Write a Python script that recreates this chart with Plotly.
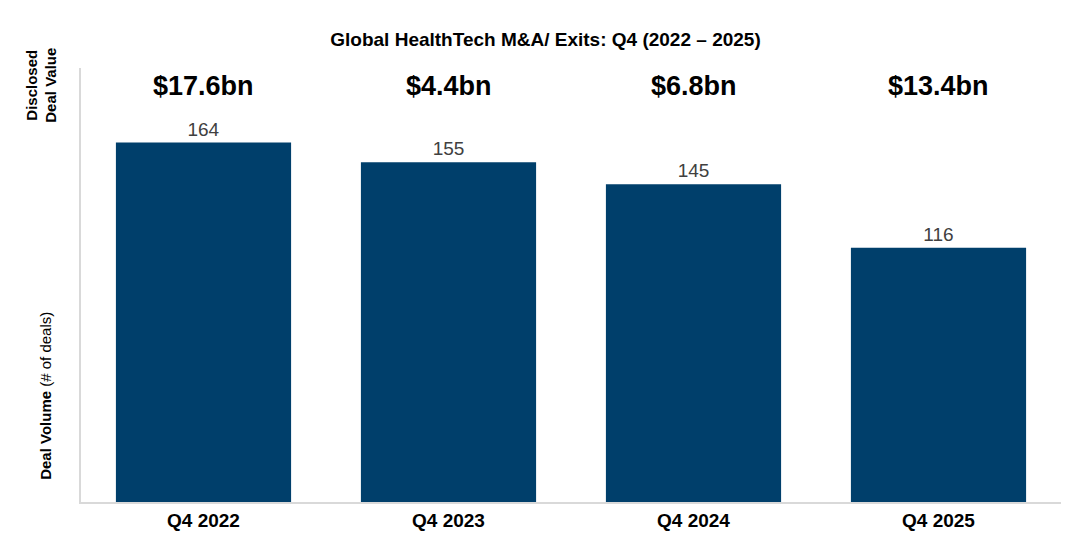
import plotly.graph_objects as go

quarters = ["Q4 2022", "Q4 2023", "Q4 2024", "Q4 2025"]
deal_volume = [164, 155, 145, 116]
deal_value = ["$17.6bn", "$4.4bn", "$6.8bn", "$13.4bn"]

FONT = "Liberation Sans"

fig = go.Figure()
fig.add_trace(go.Bar(
    x=quarters,
    y=deal_volume,
    marker=dict(color="#003f6b", line=dict(width=0)),
    text=[str(v) for v in deal_volume],
    textposition="outside",
    textfont=dict(size=19, color="#404040", family=FONT),
    cliponaxis=False,
))

# disclosed value labels above each bar
for q, v in zip(quarters, deal_value):
    fig.add_annotation(x=q, y=0.958, yref="paper", yanchor="middle", text=f"<b>{v}</b>",
                       showarrow=False, font=dict(size=27, color="black", family=FONT))

fig.add_annotation(x=-0.037, y=0.244, xref="paper", yref="paper", xanchor="center", yanchor="middle",
                   text="<b>Deal Volume</b> (# of deals)", textangle=-90, showarrow=False,
                   font=dict(size=15, color="black", family=FONT))
fig.add_annotation(x=-0.04, y=0.961, xref="paper", yref="paper", xanchor="center", yanchor="middle",
                   text="<b>Disclosed<br>Deal Value</b>", textangle=-90, showarrow=False,
                   font=dict(size=15, color="black", family=FONT))

fig.update_layout(
    title=dict(text="<b>Global HealthTech M&A/ Exits: Q4 (2022 – 2025)</b>", x=0.5, xanchor="center",
               y=0.942, yanchor="middle", font=dict(size=19, color="black", family=FONT)),
    width=1075, height=548,
    margin=dict(l=73, r=22, t=60, b=54, autoexpand=False),
    plot_bgcolor="white", paper_bgcolor="white",
    bargap=0.285,
    showlegend=False,
    xaxis=dict(showline=True, linecolor="#d9d9d9", linewidth=1.5, ticks="",
               tickfont=dict(size=19, color="black", family=FONT),
               tickprefix="<b>", ticksuffix="</b>"),
    yaxis=dict(range=[0, 198], showticklabels=False, showgrid=False, zeroline=False,
               showline=True, linecolor="#d9d9d9", linewidth=1.5),
)

fig.write_html("out.html")
